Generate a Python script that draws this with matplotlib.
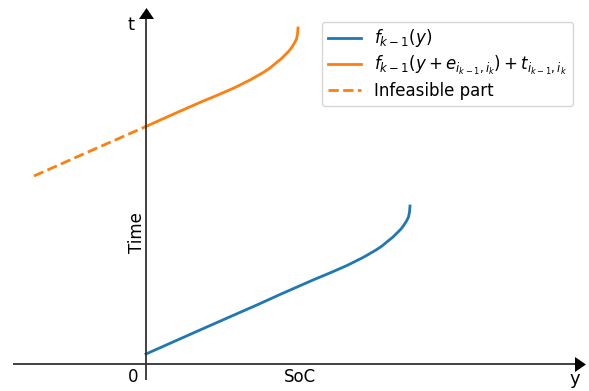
import numpy as np
import matplotlib.pyplot as plt
from matplotlib.lines import Line2D

# blue curve f_{k-1}(y)
blue_x = [0.00, 0.54, 1.04, 1.12, 1.34, 1.67, 1.85, 2.01, 2.10, 2.17, 2.24, 2.30, 2.36, 2.42,
          2.47, 2.51, 2.55, 2.58, 2.605, 2.625, 2.635, 2.64]
blue_y = [0.10, 0.34, 0.56, 0.595, 0.695, 0.84, 0.915, 0.985, 1.03, 1.065, 1.105, 1.14, 1.18, 1.23,
          1.27, 1.31, 1.35, 1.39, 1.43, 1.47, 1.52, 1.58]
e_shift = 1.12   # e_{i_{k-1}, i_k}
t_shift = 1.78   # t_{i_{k-1}, i_k}

fig = plt.figure(figsize=(5.89, 3.91), dpi=100)
ax = fig.add_axes([0, 0, 1, 1])
ax.set_xlim(-1.46, 4.43)
ax.set_ylim(-0.27, 3.64)
ax.axis('off')

bx = np.array(blue_x)
by = np.array(blue_y)
ox = bx - e_shift
oy = by + t_shift
feas = ox >= -1e-9
infe = ox <= 1e-9

c_blue = '#1f77b4'
c_orange = '#ff7f0e'
ax.plot(bx, by, color=c_blue, lw=2)
ax.plot(ox[feas], oy[feas], color=c_orange, lw=2)
ax.plot(ox[infe], oy[infe], color=c_orange, lw=2, ls='--')

# axes with arrows
axc = '#333333'
tri = [(-1, -0.73), (1, -0.73), (0, 0.73)]
tri_r = [(-0.73, -1), (-0.73, 1), (0.73, 0)]
ax.plot([-1.33, 4.30], [0, 0], color=axc, lw=1.3, solid_capstyle='butt')
ax.plot([0, 0], [-0.16, 3.45], color=axc, lw=1.3, solid_capstyle='butt')
ax.plot(4.34, 0, marker=tri_r, color='k', ms=10.8, markeredgewidth=0)
ax.plot(0, 3.515, marker=tri, color='k', ms=10.8, markeredgewidth=0)

fs = 12
ax.text(-0.13, -0.13, '0', fontsize=fs, ha='center', va='center')
ax.text(1.54, -0.13, 'SoC', fontsize=fs, ha='center', va='center')
ax.text(4.29, -0.15, 'y', fontsize=fs + 1, ha='center', va='center')
ax.text(-0.15, 3.39, 't', fontsize=fs + 1, ha='center', va='center')
ax.text(-0.09, 1.31, 'Time', fontsize=fs, ha='center', va='center', rotation=90)

handles = [Line2D([], [], color=c_blue, lw=2),
           Line2D([], [], color=c_orange, lw=2),
           Line2D([], [], color=c_orange, lw=2, ls='--')]
labels = [r'$f_{k-1}(y)$',
          r'$f_{k-1}(y+e_{i_{k-1},i_k})+t_{i_{k-1},i_k}$',
          'Infeasible part']
ax.legend(handles, labels, loc='upper right', bbox_to_anchor=(0.973, 0.945),
          fontsize=12, frameon=True, borderaxespad=0, handlelength=2.0,
          labelspacing=0.28, borderpad=0.35)

fig.savefig('out.png', dpi=100)
